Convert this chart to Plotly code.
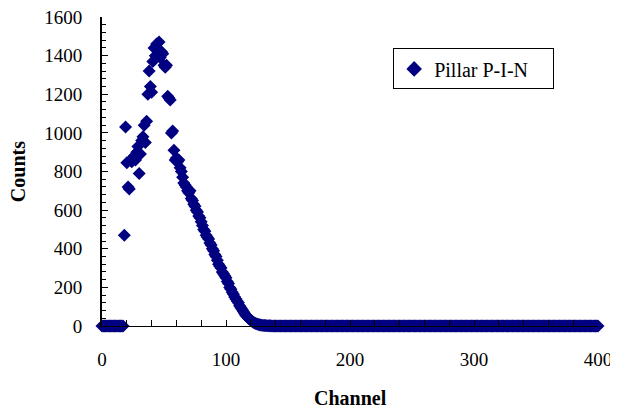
import plotly.graph_objects as go

# Counts per channel, channels 0..140
counts_head = [
    0, 0, 0, 0, 0, 0, 0, 0, 0, 0,          # 0-9
    0, 0, 0, 0, 0, 0, 0, 0, 470, 1030,     # 10-19
    845, 720, 710, 860, 850, 870, 880, 860, 900, 930,   # 20-29
    790, 890, 960, 980, 1040, 950, 1060, 1200, 1320, 1240,  # 30-39
    1210, 1370, 1440, 1400, 1460, 1430, 1470, 1390, 1420, 1410,  # 40-49
    1350, 1340, 1350, 1190, 1180, 1170, 1000, 1010, 910, 860,  # 50-59
    870, 850, 860, 820, 800, 770, 740, 730, 720, 700,  # 60-69
    690, 700, 660, 650, 630, 620, 600, 590, 570, 560,  # 70-79
    540, 520, 500, 490, 470, 460, 450, 430, 420, 400,  # 80-89
    390, 370, 360, 340, 320, 310, 300, 280, 270, 260,  # 90-99
    250, 230, 220, 200, 190, 175, 165, 150, 140, 130,  # 100-109
    120, 105, 95, 85, 75, 65, 55, 50, 42, 35,          # 110-119
    30, 25, 20, 16, 13, 10, 8, 6, 5, 4,                # 120-129
    3, 2, 2, 1, 1, 1, 1, 0, 0, 0,                      # 130-139
]
# Channels 140..400: flat at zero
counts_tail = [
    0, 0, 0, 0, 0, 0, 0, 0, 0, 0, 0, 0, 0, 0, 0, 0, 0, 0, 0, 0,
    0, 0, 0, 0, 0, 0, 0, 0, 0, 0, 0, 0, 0, 0, 0, 0, 0, 0, 0, 0,
    0, 0, 0, 0, 0, 0, 0, 0, 0, 0, 0, 0, 0, 0, 0, 0, 0, 0, 0, 0,
    0, 0, 0, 0, 0, 0, 0, 0, 0, 0, 0, 0, 0, 0, 0, 0, 0, 0, 0, 0,
    0, 0, 0, 0, 0, 0, 0, 0, 0, 0, 0, 0, 0, 0, 0, 0, 0, 0, 0, 0,
    0, 0, 0, 0, 0, 0, 0, 0, 0, 0, 0, 0, 0, 0, 0, 0, 0, 0, 0, 0,
    0, 0, 0, 0, 0, 0, 0, 0, 0, 0, 0, 0, 0, 0, 0, 0, 0, 0, 0, 0,
    0, 0, 0, 0, 0, 0, 0, 0, 0, 0, 0, 0, 0, 0, 0, 0, 0, 0, 0, 0,
    0, 0, 0, 0, 0, 0, 0, 0, 0, 0, 0, 0, 0, 0, 0, 0, 0, 0, 0, 0,
    0, 0, 0, 0, 0, 0, 0, 0, 0, 0, 0, 0, 0, 0, 0, 0, 0, 0, 0, 0,
    0, 0, 0, 0, 0, 0, 0, 0, 0, 0, 0, 0, 0, 0, 0, 0, 0, 0, 0, 0,
    0, 0, 0, 0, 0, 0, 0, 0, 0, 0, 0, 0, 0, 0, 0, 0, 0, 0, 0, 0,
    0, 0, 0, 0, 0, 0, 0, 0, 0, 0, 0, 0, 0, 0, 0, 0, 0, 0, 0, 0,
    0,
]
counts = counts_head + counts_tail
channels = list(range(len(counts)))

series_name = "Pillar P-I-N"
x_title = "Channel"
y_title = "Counts"
x_tick_vals = [0, 100, 200, 300, 400]
y_tick_vals = [0, 200, 400, 600, 800, 1000, 1200, 1400, 1600]

font_family = "Liberation Serif, Times New Roman, serif"
navy = "#000080"

fig = go.Figure()
fig.add_trace(go.Scatter(
    x=channels, y=counts, mode="markers", name=series_name,
    marker=dict(symbol="diamond", size=10, color=navy, line=dict(width=0)),
    cliponaxis=False,
))

# The page body adds an 8px offset, so the figure is sized 610x402.
fig.update_layout(
    width=610, height=402,
    margin=dict(l=94, r=20, t=9, b=84, autoexpand=False),
    paper_bgcolor="white", plot_bgcolor="white",
    font=dict(family=font_family, size=19, color="black"),
    showlegend=True,
    legend=dict(
        orientation="h",
        x=0.587, y=0.832, xanchor="left", yanchor="middle",
        bgcolor="white", bordercolor="black", borderwidth=1,
        font=dict(size=20, family=font_family),
        itemsizing="constant",
        entrywidth=114, entrywidthmode="pixels",
        tracegroupgap=0,
    ),
    xaxis=dict(
        range=[0, 400], tickvals=x_tick_vals, automargin=False,
        showline=True, linecolor="black", linewidth=1,
        ticks="inside", ticklen=6, tickcolor="black",
        minor=dict(dtick=20, ticks="inside", ticklen=6, tickcolor="black"),
        showgrid=False, zeroline=False,
        ticklabelstandoff=16, ticklabeloverflow="allow",
    ),
    yaxis=dict(
        range=[0, 1600], tickvals=y_tick_vals, automargin=False,
        showline=True, linecolor="black", linewidth=2,
        ticks="inside", ticklen=6, tickcolor="black",
        minor=dict(dtick=40, ticks="inside", ticklen=4, tickcolor="black"),
        showgrid=False, zeroline=False,
        ticklabelstandoff=14, ticklabeloverflow="allow",
    ),
    annotations=[
        dict(text="<b>" + x_title + "</b>", xref="paper", yref="paper",
             x=0.5, y=-0.233, xanchor="center", yanchor="middle",
             showarrow=False, font=dict(size=20, family=font_family)),
        dict(text="<b>" + y_title + "</b>", xref="paper", yref="paper",
             x=-0.17, y=0.5, xanchor="center", yanchor="middle", textangle=-90,
             showarrow=False, font=dict(size=20, family=font_family)),
    ],
)

fig.write_html("out.html")
